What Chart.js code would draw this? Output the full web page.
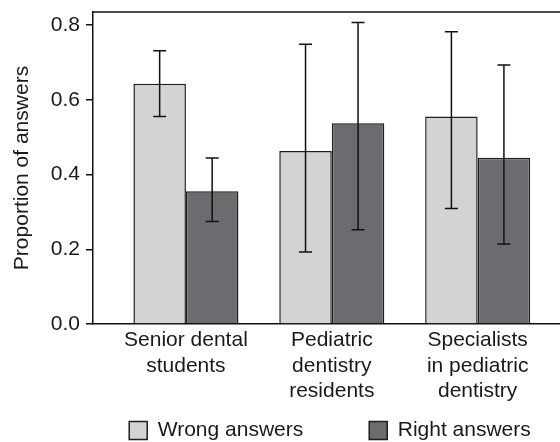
<!DOCTYPE html>
<html>
<head>
<meta charset="utf-8">
<script src="https://cdn.jsdelivr.net/npm/chart.js@4/dist/chart.umd.min.js"></script>
<style>
  html, body { margin: 0; padding: 0; background: #fff; }
  #wrap { width: 560px; height: 442px; overflow: hidden; position: relative; }
  canvas { display: block; }
</style>
</head>
<body>
<div id="wrap"><canvas id="chart" width="660" height="451"></canvas></div>
<script>
// groups on the x axis, multi-line labels
const groups = [
  ["Senior dental", "students"],
  ["Pediatric", "dentistry", "residents"],
  ["Specialists", "in pediatric", "dentistry"]
];
const seriesNames = ["Wrong answers", "Right answers"];

// mean proportions
const wrongValues = [0.643, 0.463, 0.555];
const rightValues = [0.355, 0.537, 0.445];

// error bar ends
const wrongLow = [0.555, 0.193, 0.309];
const wrongHigh = [0.731, 0.749, 0.782];
const rightLow = [0.274, 0.252, 0.214];
const rightHigh = [0.444, 0.807, 0.693];

const yTicks = [0, 0.2, 0.4, 0.6, 0.8];

Chart.defaults.font.family = "'Liberation Sans', Arial, Helvetica, sans-serif";
Chart.defaults.font.size = 21;
Chart.defaults.color = "#1a1a1a";

const toPoints = (vals) => vals.map((v, i) => ({ x: i, y: v }));

// whiskers drawn on top of the bars
const errorBars = {
  id: "errorBars",
  afterDatasetsDraw(chart) {
    const { ctx, scales: { y } } = chart;
    ctx.save();
    ctx.strokeStyle = "#111";
    ctx.lineWidth = 1.5;
    chart.data.datasets.forEach((ds, di) => {
      const meta = chart.getDatasetMeta(di);
      meta.data.forEach((bar, i) => {
        const hi = y.getPixelForValue(ds.errHigh[i]);
        const lo = y.getPixelForValue(ds.errLow[i]);
        ctx.beginPath();
        ctx.moveTo(bar.x, hi); ctx.lineTo(bar.x, lo);
        ctx.moveTo(bar.x - 6.5, hi); ctx.lineTo(bar.x + 6.5, hi);
        ctx.moveTo(bar.x - 6.5, lo); ctx.lineTo(bar.x + 6.5, lo);
        ctx.stroke();
      });
    });
    ctx.restore();
  }
};

// top line of the frame
const topFrame = {
  id: "topFrame",
  afterDraw(chart) {
    const { ctx, chartArea } = chart;
    ctx.save();
    ctx.strokeStyle = "#111";
    ctx.lineWidth = 1.5;
    ctx.beginPath();
    ctx.moveTo(chartArea.left - 0.75, chartArea.top);
    ctx.lineTo(chartArea.right, chartArea.top);
    ctx.stroke();
    ctx.restore();
  }
};

new Chart(document.getElementById("chart"), {
  type: "bar",
  data: {
    datasets: [
      {
        label: seriesNames[0],
        data: toPoints(wrongValues),
        errLow: wrongLow,
        errHigh: wrongHigh,
        backgroundColor: "#d3d3d5",
        borderColor: "#1e1e1e",
        borderWidth: 1.5
      },
      {
        label: seriesNames[1],
        data: toPoints(rightValues),
        errLow: rightLow,
        errHigh: rightHigh,
        backgroundColor: "#6c6c70",
        borderColor: "#1e1e1e",
        borderWidth: 1.5
      }
    ]
  },
  options: {
    responsive: false,
    animation: false,
    events: [],
    categoryPercentage: 0.72,
    barPercentage: 1.0,
    layout: { padding: { top: 12, left: 0, right: 0, bottom: 0 } },
    scales: {
      x: {
        type: "linear",
        offset: false,
        min: -0.637,
        max: 3.25,
        afterBuildTicks: (scale) => {
          scale.ticks = groups.map((g, i) => ({ value: i }));
        },
        afterFit: (scale) => {
          // keep the axis box short so the legend sits close; let labels spill below it
          scale.height = 30;
          scale._computeLabelArea = () => undefined;
        },
        ticks: {
          autoSkip: false,
          maxRotation: 0,
          padding: 4,
          callback: (v) => groups[v]
        },
        grid: { display: false, drawTicks: false },
        border: { display: true, color: "#111", width: 1.5 }
      },
      y: {
        min: 0,
        max: 0.835,
        afterBuildTicks: (scale) => {
          scale.ticks = yTicks.map(v => ({ value: v }));
        },
        afterFit: (scale) => {
          scale.width = 93;
          scale.paddingTop = 0;
          scale.paddingBottom = 0;
        },
        ticks: {
          padding: 6,
          callback: (v) => v.toFixed(1)
        },
        grid: {
          display: true,
          drawOnChartArea: false,
          drawTicks: true,
          tickLength: 7,
          color: "#111",
          lineWidth: 1.5
        },
        border: { display: true, color: "#111", width: 1.5 },
        title: {
          display: true,
          text: "Proportion of answers",
          padding: { top: 10, bottom: 0 }
        }
      }
    },
    plugins: {
      legend: {
        position: "bottom",
        labels: {
          boxWidth: 18,
          boxHeight: 18,
          padding: 66
        }
      },
      tooltip: { enabled: false }
    }
  },
  plugins: [errorBars, topFrame]
});
</script>
</body>
</html>
